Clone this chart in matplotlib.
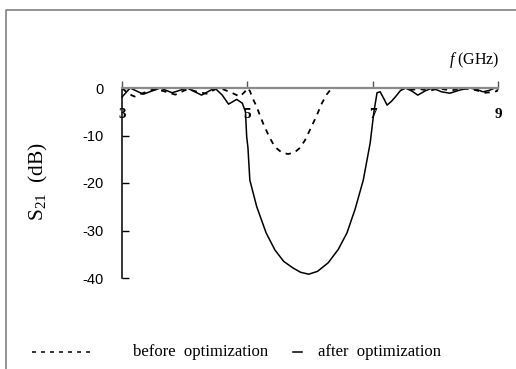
import matplotlib
matplotlib.use('Agg')
import matplotlib.pyplot as plt
from matplotlib.lines import Line2D

plt.rcParams['mathtext.fontset'] = 'custom'
plt.rcParams['mathtext.rm'] = 'Liberation Serif'
plt.rcParams['mathtext.it'] = 'Liberation Serif:italic'

# S21 after optimization (solid)
after_f = [3.0, 3.13, 3.34, 3.61, 3.80, 4.04, 4.27, 4.48, 4.60, 4.70, 4.83, 4.92,
           4.97, 4.99, 5.01, 5.04, 5.15, 5.30, 5.44, 5.58, 5.73, 5.85, 5.98, 6.12,
           6.29, 6.45, 6.59, 6.72, 6.85, 6.96, 7.02, 7.07, 7.12, 7.18, 7.23, 7.30,
           7.36, 7.44, 7.52, 7.62, 7.72, 7.84, 7.95, 8.10, 8.23, 8.40, 8.55, 8.66,
           8.76, 8.86, 8.95, 9.0]
after_db = [-1.9, 0.0, -1.3, 0.0, -1.0, 0.0, -1.5, 0.0, -1.5, -3.4, -2.4, -3.2,
            -5.0, -10.3, -12.6, -19.4, -25.0, -30.5, -34.1, -36.5, -37.9, -38.8, -39.2, -38.6,
            -36.8, -34.0, -30.5, -25.5, -19.4, -11.6, -5.0, -1.0, -0.8, -2.3, -3.6, -2.8,
            -1.9, -0.6, 0.0, -0.6, -1.5, -0.6, 0.0, -0.8, -1.1, -0.4, 0.0, -0.3,
            -0.8, -0.5, 0.0, -0.2]

# S21 before optimization (dashed)
before_f = [3.0, 3.10, 3.20, 3.35, 3.50, 3.65, 3.85, 4.05, 4.20, 4.35, 4.50, 4.62,
            4.75, 4.88, 4.96, 5.0, 5.04, 5.08, 5.15, 5.25, 5.35, 5.44, 5.55, 5.65,
            5.75, 5.84, 5.92, 6.0, 6.10, 6.19, 6.27, 6.35, 6.6, 7.0, 7.4, 7.6,
            7.75, 7.9, 8.05, 8.25, 8.45, 8.6, 8.8, 8.95, 9.0]
before_db = [0.0, -1.2, -1.8, -1.0, -0.3, -0.6, -1.4, -0.2, -0.8, -1.2, -0.2, -0.3,
             -1.0, -1.8, -0.8, 0.0, -0.6, -2.0, -4.0, -7.4, -10.3, -12.4, -13.6, -13.9,
             -13.6, -12.6, -11.0, -8.8, -6.0, -3.2, -1.3, 0.0, 0.0, 0.0, 0.0, -0.4,
             -0.2, -0.6, -0.1, -0.5, -0.1, -0.3, -1.0, -0.8, -0.5]

x_ticks = [3, 5, 7, 9]
y_ticks = [0, -10, -20, -30, -40]

W, H = 516, 369
fig = plt.figure(figsize=(W / 100, H / 100), dpi=100)
fig.patch.set_facecolor('white')

# axes: x 3..9 -> px 122..498, y 0..-40 -> px 88..278
ax = fig.add_axes([122 / W, 1 - 278 / H, 376 / W, 190 / H])
ax.set_xlim(3, 9)
ax.set_ylim(-40, 0)
ax.patch.set_alpha(0)

ax.plot(before_f, before_db, color='black', lw=1.3, ls=(0, (3, 3)), clip_on=False)
ax.plot(after_f, after_db, color='black', lw=1.1, clip_on=False)

for side in ['right', 'bottom']:
    ax.spines[side].set_visible(False)
ax.spines['left'].set_color('black')
ax.spines['left'].set_linewidth(1.1)
ax.spines['top'].set_color('#8a8a8a')
ax.spines['top'].set_linewidth(1.6)

ax.xaxis.set_ticks_position('top')
ax.set_xticks(x_ticks)
ax.set_xticklabels([str(v) for v in x_ticks], family='Liberation Serif',
                   fontweight='bold', fontsize=11)
ax.tick_params(axis='x', direction='out', length=5, width=1, color='#555555',
               pad=-29)

ax.set_yticks(y_ticks)
ax.set_yticklabels([str(v) for v in y_ticks], family='Liberation Sans', fontsize=10.5)
ax.tick_params(axis='y', direction='in', length=5, width=1, pad=13)

fig.text(38 / W, 1 - 182 / H, r'S$_{\mathregular{21}}$  (dB)', rotation=90,
         ha='center', va='center', family='Liberation Serif', fontsize=15.5)
fig.text(500 / W, 1 - 60 / H, r'$\mathit{f}$ (GHz)', ha='right', va='center',
         family='Liberation Serif', fontsize=11.5)

# page border (top and left)
fig.add_artist(Line2D([6 / W, 6 / W, 1.0], [0.0, 1 - 10 / H, 1 - 10 / H],
                      color='#808080', lw=1.2))

# legend drawn manually
ly = 1 - 352 / H
fig.add_artist(Line2D([32 / W, 92 / W], [ly, ly], color='black', lw=1.1,
                      ls=(0, (2.6, 3.3))))
fig.text(133 / W, ly, 'before  optimization', ha='left', va='center',
         family='Liberation Serif', fontsize=12)
fig.add_artist(Line2D([293 / W, 302 / W], [ly, ly], color='black', lw=1.1))
fig.text(318 / W, ly, 'after  optimization', ha='left', va='center',
         family='Liberation Serif', fontsize=12)

fig.savefig('out.png', dpi=100)
